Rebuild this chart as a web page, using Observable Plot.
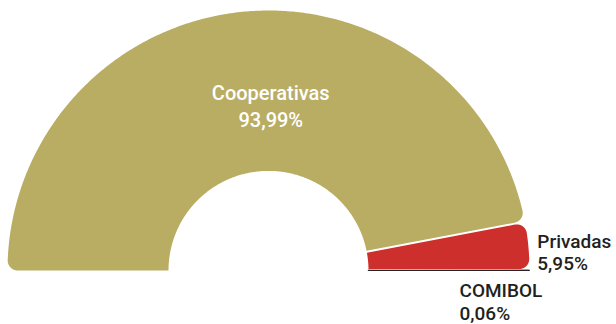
<!DOCTYPE html>
<html>
<head>
<meta charset="utf-8">
<script src="https://cdn.jsdelivr.net/npm/d3@7"></script>
<script src="https://cdn.jsdelivr.net/npm/@observablehq/plot@0.6"></script>
<style>
  html, body { margin: 0; padding: 0; background: #fff; }
  #chart { width: 616px; height: 324px; }
</style>
</head>
<body>
<div id="chart"></div>
<script>
// ---- data ----
const names = ["Cooperativas", "Privadas", "COMIBOL"];
const shares = [93.99, 5.95, 0.06];
const shareLabels = ["93,99%", "5,95%", "0,06%"];

// ---- style ----
const sliceColors = ["#b9ad63", "#cc2f2c", "#161616"];
const labelColors = ["#ffffff", "#231f20", "#231f20"];

// ---- layout (pixels) ----
const W = 616, H = 324;
const cx = 268, cy = 270;         // centre of half ring
const sx = 261, sy = 260;         // px per unit radius
const innerR = 100 / 261;         // inner radius in units
const cornerR = 10 / 261;         // rounded outer corners
const halfPad = 1 / 261;          // half of the white gap between slices

const total = d3.sum(shares);
let acc = 0;
const slices = names.map((name, i) => {
  const a0 = Math.PI - (acc / total) * Math.PI;
  acc += shares[i];
  const a1 = Math.PI - (acc / total) * Math.PI;
  return {name, i, a0, a1, share: shares[i]};
});

function arc(pts, name, ox, oy, rad, from, to) {
  const n = Math.max(2, Math.ceil(Math.abs(to - from) / (Math.PI / 360)));
  for (let k = 0; k <= n; k++) {
    const t = from + (to - from) * k / n;
    pts.push({name, x: ox + rad * Math.cos(t), y: oy + rad * Math.sin(t)});
  }
}

function slicePolygon(s) {
  const pts = [];
  const last = names.length - 1;
  const tiny = s.share < 1;
  const p0 = s.i === 0 ? 0 : (tiny ? 0 : halfPad);
  const p1 = s.i === last ? 0 : halfPad;
  const {a0, a1, name} = s;
  const d0 = [Math.cos(a0), Math.sin(a0)], n0 = [Math.sin(a0), -Math.cos(a0)];
  const d1 = [Math.cos(a1), Math.sin(a1)], n1 = [-Math.sin(a1), Math.cos(a1)];
  const ti0 = Math.sqrt(innerR * innerR - p0 * p0);
  pts.push({name, x: ti0 * d0[0] + p0 * n0[0], y: ti0 * d0[1] + p0 * n0[1]});
  if (!tiny) {
    const rr = 1 - cornerR;
    const tc0 = Math.sqrt(rr * rr - (p0 + cornerR) ** 2);
    const c0 = [tc0 * d0[0] + (p0 + cornerR) * n0[0], tc0 * d0[1] + (p0 + cornerR) * n0[1]];
    const del0 = Math.asin((p0 + cornerR) / rr);
    arc(pts, name, c0[0], c0[1], cornerR, a0 + Math.PI / 2, a0 - del0);
    const tc1 = Math.sqrt(rr * rr - (p1 + cornerR) ** 2);
    const c1 = [tc1 * d1[0] + (p1 + cornerR) * n1[0], tc1 * d1[1] + (p1 + cornerR) * n1[1]];
    const del1 = Math.asin((p1 + cornerR) / rr);
    arc(pts, name, 0, 0, 1, a0 - del0, a1 + del1);
    arc(pts, name, c1[0], c1[1], cornerR, a1 + del1, a1 - Math.PI / 2);
  } else {
    arc(pts, name, 0, 0, 1, a0 - Math.asin(p0), a1 + Math.asin(p1));
  }
  arc(pts, name, 0, 0, innerR, a1 + Math.asin(p1 / innerR), a0 - Math.asin(p0 / innerR));
  return pts;
}

const ringPts = slices.flatMap(slicePolygon);

// label anchors derived from slice angles
const labelSpec = [
  {radius: 0.64, dx: 18, dy: 0, anchor: "middle", lh: 1.35, size: 20},
  {radius: 1, dx: 9, dy: 6, anchor: "start", lh: 1.2, size: 19},
  {radius: 1, dx: -70, dy: 31, anchor: "start", lh: 1.2, size: 19}
];
const labels = slices.map((s, i) => {
  const m = (s.a0 + s.a1) / 2;
  return {
    name: s.name,
    text: `${s.name}\n${shareLabels[i]}`,
    x: labelSpec[i].radius * Math.cos(m),
    y: labelSpec[i].radius * Math.sin(m),
    ...labelSpec[i],
    color: labelColors[i]
  };
});

const chart = Plot.plot({
  width: W,
  height: H,
  margin: 0,
  x: {domain: [-cx / sx, (W - cx) / sx], axis: null},
  y: {domain: [(cy - H) / sy, cy / sy], axis: null},
  color: {domain: names, range: sliceColors},
  style: {background: "#fff"},
  marks: [
    Plot.line(ringPts, {x: "x", y: "y", z: "name", fill: "name", stroke: "none", curve: "linear-closed"}),
    Plot.line(ringPts.filter(d => d.name === "COMIBOL"), {x: "x", y: "y", z: "name", stroke: "name", strokeWidth: 0.8, curve: "linear-closed"}),
    ...labels.map(l => Plot.text([l], {
      x: "x", y: "y", text: "text",
      dx: l.dx, dy: l.dy,
      textAnchor: l.anchor,
      lineHeight: l.lh,
      fill: l.color,
      fontSize: l.size,
      fontWeight: 500,
      fontFamily: "Roboto, sans-serif"
    }))
  ]
});
document.getElementById("chart").appendChild(chart);
</script>
</body>
</html>
